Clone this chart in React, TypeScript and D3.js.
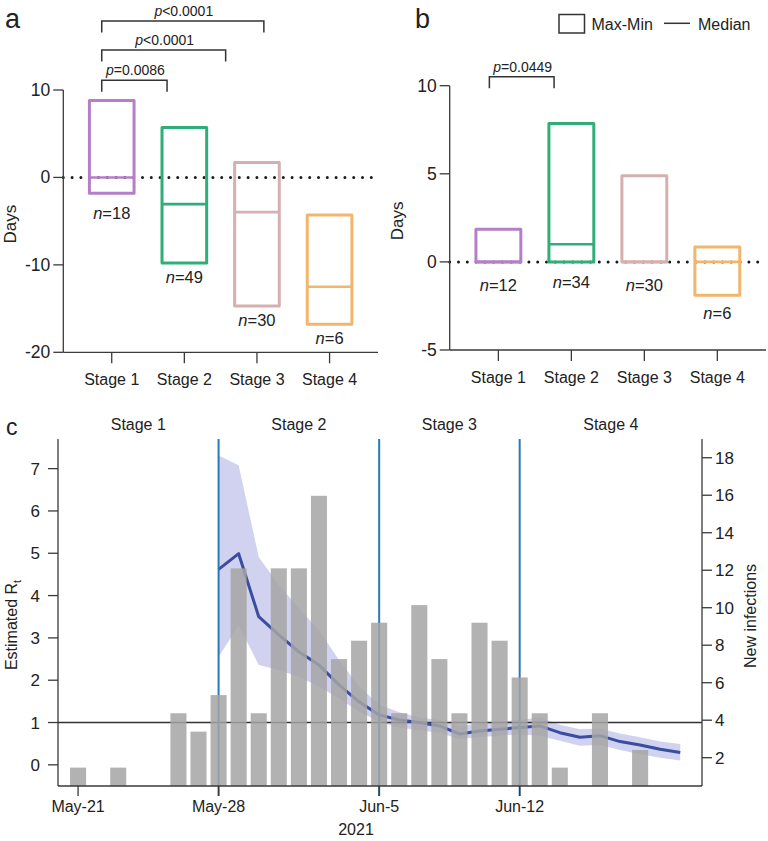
import React from "react";
import * as d3 from "d3";

// ---------- data ----------
const stages = ["Stage 1", "Stage 2", "Stage 3", "Stage 4"];
const stageColors = ["#b47fc8", "#2fae78", "#d6b0b0", "#f2b56c"];

const aMax = [8.8, 5.7, 1.7, -4.3];
const aMin = [-1.8, -9.8, -14.7, -16.8];
const aMedian = [0, -3.05, -3.97, -12.5];
const aN = [18, 49, 30, 6];
const aTicks = [-20, -10, 0, 10];

const bMax = [1.86, 7.86, 4.89, 0.85];
const bMin = [0, 0, 0, -1.89];
const bMedian = [0, 1, 0, 0];
const bN = [12, 34, 30, 6];
const bTicks = [-5, 0, 5, 10];

const aPvals = ["=0.0086", "<0.0001", "<0.0001"];
const bPvals = ["=0.0449"];

const barDates = [
  "2021-05-21", "2021-05-23", "2021-05-26", "2021-05-27", "2021-05-28", "2021-05-29",
  "2021-05-30", "2021-05-31", "2021-06-01", "2021-06-02", "2021-06-03", "2021-06-04",
  "2021-06-05", "2021-06-06", "2021-06-07", "2021-06-08", "2021-06-09", "2021-06-10",
  "2021-06-11", "2021-06-12", "2021-06-13", "2021-06-14", "2021-06-16", "2021-06-18",
];
const newInfections = [
  1.47, 1.47, 4.37, 3.39, 5.34, 12.1, 4.37, 12.1, 12.1, 15.97, 7.26, 8.24,
  9.2, 4.37, 10.14, 7.26, 4.37, 9.2, 8.24, 6.28, 4.37, 1.47, 4.37, 2.41,
];

const rtStart = "2021-05-28";
const rtMedian = [
  4.62, 4.99, 3.5, 3.07, 2.67, 2.36, 1.89, 1.49, 1.18, 1.06, 1.0, 0.92,
  0.73, 0.8, 0.84, 0.88, 0.92, 0.76, 0.65, 0.69, 0.55, 0.47, 0.37, 0.29,
];
const rtUpper = [
  7.31, 7.08, 4.91, 4.25, 3.7, 3.18, 2.48, 1.85, 1.42, 1.24, 1.12, 1.06,
  0.92, 0.98, 1.02, 1.06, 1.12, 0.95, 0.84, 0.86, 0.74, 0.65, 0.55, 0.49,
];
const rtLower = [
  2.55, 3.3, 2.36, 2.24, 2.08, 1.85, 1.57, 1.26, 1.02, 0.88, 0.82, 0.76,
  0.61, 0.66, 0.69, 0.72, 0.69, 0.57, 0.45, 0.47, 0.35, 0.25, 0.17, 0.1,
];
const stageBoundaries = ["2021-05-28", "2021-06-05", "2021-06-12"];
const dateTicks = ["2021-05-21", "2021-05-28", "2021-06-05", "2021-06-12"];
const dateTickLabels = ["May-21", "May-28", "Jun-5", "Jun-12"];
const rtTicks = [0, 1, 2, 3, 4, 5, 6, 7];
const niTicks = [2, 4, 6, 8, 10, 12, 14, 16, 18];

// ---------- style ----------
const FONT = "'Liberation Sans', Arial, sans-serif";
const AX = "#3a3a3a";
const parse = d3.timeParse("%Y-%m-%d");

function BoxPanel({ left, right, top, bottom, yDomain, ticks, maxs, mins, meds, ns, nOffsets, brackets, label, labelX }) {
  const y = d3.scaleLinear().domain(yDomain).range([bottom, top]);
  const x = d3.scalePoint().domain(stages).range([left, right]).padding(0.667);
  const bw = x.step() * 0.615;
  return (
    <g fontFamily={FONT}>
      <text x={labelX} y={28} fontSize={27} fill="#222">{label}</text>
      <line x1={left} x2={right - 4} y1={y(0)} y2={y(0)} stroke="#1a1a1a" strokeWidth={3}
        strokeDasharray="0 8.8" strokeLinecap="round" />
      {stages.map((s, i) => (
        <g key={s}>
          <rect x={x(s)! - bw / 2} y={y(maxs[i])} width={bw} height={y(mins[i]) - y(maxs[i])}
            fill="none" stroke={stageColors[i]} strokeWidth={3} strokeLinejoin="round" />
          <line x1={x(s)! - bw / 2} x2={x(s)! + bw / 2} y1={y(meds[i])} y2={y(meds[i])}
            stroke={stageColors[i]} strokeWidth={2.6} />
          <text x={x(s)!} y={y(mins[i]) + nOffsets[i]} fontSize={16.5} textAnchor="middle" fill="#222">
            <tspan fontStyle="italic">n</tspan>={ns[i]}
          </text>
        </g>
      ))}
      <line x1={left} x2={left} y1={y(yDomain[1])} y2={bottom} stroke={AX} strokeWidth={1.3} />
      <line x1={left} x2={right} y1={bottom} y2={bottom} stroke={AX} strokeWidth={1.3} />
      {ticks.map((t) => (
        <g key={t}>
          <line x1={left - 10} x2={left} y1={y(t)} y2={y(t)} stroke={AX} strokeWidth={1.3} />
          <text x={left - 13} y={y(t) + 6} fontSize={17.5} textAnchor="end" fill="#222">{t}</text>
        </g>
      ))}
      {stages.map((s) => (
        <g key={s}>
          <line x1={x(s)!} x2={x(s)!} y1={bottom} y2={bottom + 11} stroke={AX} strokeWidth={1.3} />
          <text x={x(s)!} y={bottom + 33} fontSize={16} textAnchor="middle" fill="#222">{s}</text>
        </g>
      ))}
      <text transform={`translate(${left - 47},${(top + bottom) / 2 + 3}) rotate(-90)`} fontSize={17}
        textAnchor="middle" fill="#222">Days</text>
      {brackets.map((b, i) => {
        const x1 = x(stages[b.from])! + b.dl;
        const x2 = x(stages[b.to])! + b.dr;
        return (
          <g key={i}>
            <path d={`M${x1},${b.y + 11.5}V${b.y}H${x2}V${b.y + 11.5}`} fill="none" stroke="#333" strokeWidth={1.5} />
            <text x={(x1 + x2) / 2 + 1} y={b.y - 5} fontSize={14} textAnchor="middle" fill="#222">
              <tspan fontStyle="italic">p</tspan>{b.text}
            </text>
          </g>
        );
      })}
    </g>
  );
}

function PanelC() {
  const L = 58, R = 702, T = 439, B = 786;
  const x = d3.scaleTime().domain([new Date(2021, 4, 20), new Date(2021, 5, 21, 2)]).range([L, R]);
  const yR = d3.scaleLinear().domain([-0.5, 7.7]).range([B, T]);
  const yN = d3.scaleLinear().domain([0.49, 19.0]).range([B, T]);
  const day = x(new Date(2021, 4, 22)) - x(new Date(2021, 4, 21));
  const bw = day * 0.8;
  const t0 = parse(rtStart)!;
  const rtData = rtMedian.map((m, i) => ({ d: d3.timeDay.offset(t0, i), m, u: rtUpper[i], l: rtLower[i] }));
  const area = d3.area<any>().x((d) => x(d.d)).y0((d) => yR(d.l)).y1((d) => yR(d.u));
  const line = d3.line<any>().x((d) => x(d.d)).y((d) => yR(d.m));
  const bounds = stageBoundaries.map((s) => x(parse(s)!));
  const edges = [L, ...bounds, R];
  return (
    <g fontFamily={FONT}>
      <text x={6} y={435} fontSize={23} fill="#222">c</text>
      {stages.map((s, i) => (
        <text key={s} x={(edges[i] + edges[i + 1]) / 2} y={430} fontSize={16} textAnchor="middle" fill="#222">{s}</text>
      ))}
      <path d={area(rtData)!} fill="#d0d2ef" />
      <line x1={L} x2={R} y1={yR(1)} y2={yR(1)} stroke="#333" strokeWidth={1.6} />
      <path d={line(rtData)!} fill="none" stroke="#3a4d9f" strokeWidth={3} strokeLinejoin="round" />
      {bounds.map((bx, i) => (
        <line key={i} x1={bx} x2={bx} y1={T} y2={B + 10} stroke="#2a7ab8" strokeWidth={2} />
      ))}
      {barDates.map((ds, i) => {
        const cx = x(parse(ds)!);
        return (
          <rect key={ds} x={cx - bw / 2} y={yN(newInfections[i])} width={bw} height={B - yN(newInfections[i])}
            fill="#a5a5a5" opacity={0.85} />
        );
      })}
      <line x1={L} x2={L} y1={T} y2={B} stroke={AX} strokeWidth={1.3} />
      <line x1={R} x2={R} y1={T} y2={B} stroke={AX} strokeWidth={1.3} />
      <line x1={L} x2={R} y1={B} y2={B} stroke={AX} strokeWidth={1.3} />
      {rtTicks.map((t) => (
        <g key={t}>
          <line x1={L - 10} x2={L} y1={yR(t)} y2={yR(t)} stroke={AX} strokeWidth={1.3} />
          <text x={L - 18} y={yR(t) + 6} fontSize={17} textAnchor="end" fill="#222">{t}</text>
        </g>
      ))}
      {niTicks.map((t) => (
        <g key={t}>
          <line x1={R} x2={R + 10} y1={yN(t)} y2={yN(t)} stroke={AX} strokeWidth={1.3} />
          <text x={R + 13} y={yN(t) + 6} fontSize={17} textAnchor="start" fill="#222">{t}</text>
        </g>
      ))}
      {dateTicks.map((ds, i) => (
        <g key={ds}>
          <line x1={x(parse(ds)!)} x2={x(parse(ds)!)} y1={B} y2={B + 10} stroke={AX} strokeWidth={1.3} />
          <text x={x(parse(ds)!)} y={812} fontSize={16} textAnchor="middle" fill="#222">{dateTickLabels[i]}</text>
        </g>
      ))}
      <text x={356} y={835} fontSize={16} textAnchor="middle" fill="#222">2021</text>
      <text transform={`translate(17,625) rotate(-90)`} fontSize={16} textAnchor="middle" fill="#222">
        Estimated R<tspan fontSize={11} dy={4}>t</tspan>
      </text>
      <text transform={`translate(756,616) rotate(-90)`} fontSize={16} textAnchor="middle" fill="#222">New infections</text>
    </g>
  );
}

export default function App() {
  return (
    <svg width={768} height={841} style={{ position: "absolute", left: 0, top: 0, background: "#fff" }}>
      <rect width={768} height={841} fill="#fff" />
      <BoxPanel left={63.3} right={378} top={90} bottom={352.3} yDomain={[-20, 10]} ticks={aTicks}
        maxs={aMax} mins={aMin} meds={aMedian} ns={aN} nOffsets={[26, 20, 20, 20]}
        label="a" labelX={5}
        brackets={[
          { from: 0, to: 1, dl: -10, dr: -17.3, y: 80.3, text: aPvals[0] },
          { from: 0, to: 2, dl: -10, dr: -31.3, y: 50, text: aPvals[1] },
          { from: 0, to: 3, dl: -10, dr: -65.7, y: 21, text: aPvals[2] },
        ]} />
      <BoxPanel left={449.7} right={766} top={85.7} bottom={350} yDomain={[-5, 10]} ticks={bTicks}
        maxs={bMax} mins={bMin} meds={bMedian} ns={bN} nOffsets={[29, 26, 29, 24]}
        label="b" labelX={415}
        brackets={[{ from: 0, to: 1, dl: -9, dr: -17.3, y: 76.7, text: bPvals[0] }]} />
      <g fontFamily={FONT}>
        <rect x={559} y={14.5} width={25.5} height={18.5} fill="none" stroke="#333" strokeWidth={1.5} />
        <text x={591.5} y={30} fontSize={16} fill="#222">Max-Min</text>
        <line x1={664} x2={690} y1={23.3} y2={23.3} stroke="#333" strokeWidth={1.5} />
        <text x={698} y={30} fontSize={16} fill="#222">Median</text>
      </g>
      <PanelC />
    </svg>
  );
}
